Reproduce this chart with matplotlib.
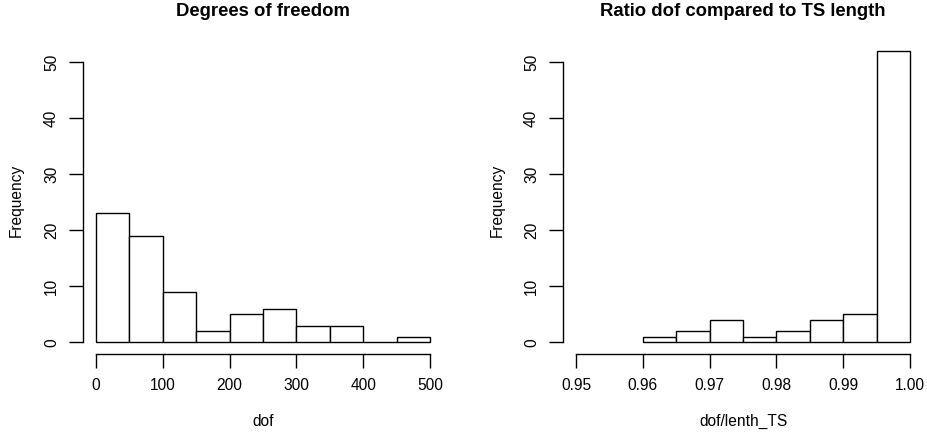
import matplotlib
matplotlib.use("Agg")
import matplotlib.pyplot as plt
import numpy as np

plt.rcParams['font.family'] = ['Liberation Sans', 'DejaVu Sans']

# Left histogram: degrees of freedom
dof_edges = [0, 50, 100, 150, 200, 250, 300, 350, 400, 450, 500]
dof_counts = [23, 19, 9, 2, 5, 6, 3, 3, 0, 1]
dof_ticks = [0, 100, 200, 300, 400, 500]

# Right histogram: ratio dof / TS length
ratio_edges = [0.960, 0.965, 0.970, 0.975, 0.980, 0.985, 0.990, 0.995, 1.000]
ratio_counts = [1, 2, 4, 1, 2, 4, 5, 52]
ratio_ticks = [0.95, 0.96, 0.97, 0.98, 0.99, 1.00]
ratio_ticklabels = ["0.95", "0.96", "0.97", "0.98", "0.99", "1.00"]

y_ticks = [0, 10, 20, 30, 40, 50]

W, H = 927, 432
fig = plt.figure(figsize=(W / 100, H / 100), dpi=100)

FS = 11.2
TFS = 13.3


def px(x0, y0, x1, y1):
    return [x0 / W, 1 - y1 / H, (x1 - x0) / W, (y1 - y0) / H]


def r_hist(ax, edges, counts, xlim, xticks, xticklabels, title, xlabel, cx):
    edges = np.asarray(edges, dtype=float)
    widths = np.diff(edges)
    ax.bar(edges[:-1], counts, width=widths, align='edge',
           facecolor='white', edgecolor='black', linewidth=1.0)
    rx = (xlim[1] - xlim[0]) * 0.04
    ax.set_xlim(xlim[0] - rx, xlim[1] + rx)
    ylim = (0, 52)
    ry = (ylim[1] - ylim[0]) * 0.04
    ax.set_ylim(ylim[0] - ry, ylim[1] + ry)
    for s in ['top', 'right']:
        ax.spines[s].set_visible(False)
    ax.spines['left'].set_bounds(0, 50)
    ax.spines['bottom'].set_bounds(xticks[0], xticks[-1])
    ax.spines['left'].set_linewidth(1.0)
    ax.spines['bottom'].set_linewidth(1.0)
    ax.set_xticks(xticks)
    ax.set_xticklabels(xticklabels, fontsize=FS)
    ax.set_yticks(y_ticks)
    ax.set_yticklabels([str(v) for v in y_ticks], fontsize=FS, rotation=90, va='center')
    ax.tick_params(direction='out', length=10, width=1.0, pad=7)
    ax.patch.set_alpha(0)
    fig.text(cx / W, 1 - 12 / H, title, ha='center', va='center',
             fontsize=TFS, fontweight='bold')
    fig.text(cx / W, 1 - 421 / H, xlabel, ha='center', va='center', fontsize=FS)


ax1 = fig.add_axes(px(82.6, 39.2, 443.4, 354))
r_hist(ax1, dof_edges, dof_counts, (0, 500), dof_ticks,
       [str(v) for v in dof_ticks], "Degrees of freedom", "dof", 263)
fig.text(16 / W, 1 - 200 / H, "Frequency", rotation=90, ha='center', va='center', fontsize=FS)

ax2 = fig.add_axes(px(562.6, 39.2, 923.4, 354))
r_hist(ax2, ratio_edges, ratio_counts, (0.95, 1.00), ratio_ticks,
       ratio_ticklabels, "Ratio dof compared to TS length", "dof/lenth_TS", 743)
fig.text(497 / W, 1 - 200 / H, "Frequency", rotation=90, ha='center', va='center', fontsize=FS)

fig.savefig("out.png", dpi=100)
